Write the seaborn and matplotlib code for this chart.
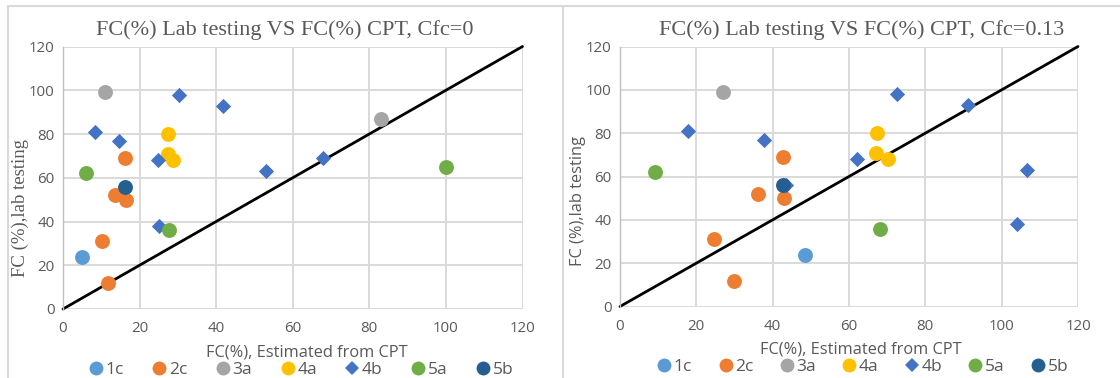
import numpy as np
import pandas as pd
import matplotlib
matplotlib.use("Agg")
import matplotlib.pyplot as plt
from matplotlib.lines import Line2D
import seaborn as sns

# Soil unit of each sample
groups = ["1c",
          "2c", "2c", "2c", "2c", "2c",
          "3a", "3a",
          "4a", "4a", "4a",
          "4b", "4b", "4b", "4b", "4b", "4b", "4b", "4b", "4b",
          "5a", "5a", "5a",
          "5b"]
# Fines content measured in the lab (%)
fc_lab = [24,
          12, 31, 52, 50, 69,
          99, 87,
          80, 71, 68,
          81, 77, 68, 98, 93, 63, 69, 38, 56,
          62, 36, 65,
          56]
# Fines content estimated from CPT with Cfc = 0 (%)
fc_cpt_cfc0 = [5.0,
               11.7, 10.2, 13.7, 16.4, 16.2,
               10.9, 83.0,
               27.3, 27.5, 28.7,
               8.3, 14.6, 24.7, 30.4, 41.7, 53.1, 67.8, 25.2, np.nan,
               6.0, 27.8, 100.0,
               16.3]
# Fines content estimated from CPT with Cfc = 0.13 (%)
fc_cpt_cfc013 = [48.4,
                 29.9, 24.5, 36.1, 43.1, 42.8,
                 27.1, np.nan,
                 67.4, 67.2, 70.2,
                 17.8, 37.8, 62.1, 72.6, 91.3, 106.6, np.nan, 103.9, 43.4,
                 9.1, 68.1, np.nan,
                 42.6]

group_order = ["1c", "2c", "3a", "4a", "4b", "5a", "5b"]
group_colors = ["#5B9BD5", "#ED7D31", "#A5A5A5", "#FFC000", "#4472C4", "#70AD47", "#255E91"]
group_markers = ["o", "o", "o", "o", "D", "o", "o"]

panel_titles = ["FC(%) Lab testing VS FC(%) CPT, Cfc=0",
                "FC(%) Lab testing VS FC(%) CPT, Cfc=0.13"]
x_label = "FC(%), Estimated from CPT"
y_label = "FC (%),lab testing"
ticks = [0, 20, 40, 60, 80, 100, 120]

df = pd.DataFrame({"group": groups, "lab": fc_lab,
                   "cfc0": fc_cpt_cfc0, "cfc013": fc_cpt_cfc013})

sns.set_style("white")
plt.rcParams["font.family"] = ["Open Sans", "DejaVu Sans"]

text_color = "#595959"
grid_color = "#d9d9d9"

fig = plt.figure(figsize=(11.2, 3.78), dpi=100)
ax_left = fig.add_axes([63 / 1120, 1 - 309 / 378, 459.5 / 1120, 262.5 / 378])
ax_right = fig.add_axes([620 / 1120, 1 - 306.5 / 378, 458 / 1120, 260 / 378])

panel_style = [
    # title x, x-label x, y-label y, y-label font/size, legend x, legend spacing
    dict(tx=0.483, lx=0.531, ly=0.385, yfam=["Liberation Serif"], ysize=13.5,
         legx=0.516, colsp=1.55),
    dict(tx=0.528, lx=0.526, ly=0.406, yfam=["Open Sans"], ysize=11.8,
         legx=0.528, colsp=1.42),
]

for ax, col, title, st in zip([ax_left, ax_right], ["cfc0", "cfc013"],
                              panel_titles, panel_style):
    ax.set_axisbelow(True)
    ax.grid(True, color=grid_color, lw=1.4)
    ax.plot([0, 120], [0, 120], color="black", lw=2, zorder=2, clip_on=False)
    for g, c, m in zip(group_order, group_colors, group_markers):
        sub = df[(df["group"] == g) & df[col].notna()]
        sns.scatterplot(data=sub, x=col, y="lab", ax=ax, color=c, marker=m,
                        s=60 if m == "D" else 115, linewidth=0, zorder=3,
                        legend=False, clip_on=False)
    ax.set_xlim(0, 120)
    ax.set_ylim(0, 120)
    ax.set_xticks(ticks)
    ax.set_yticks(ticks)
    ax.tick_params(length=0, labelsize=10.8, labelcolor=text_color)
    ax.tick_params(axis="x", pad=9)
    ax.tick_params(axis="y", pad=6)
    for s in ["top", "right", "bottom"]:
        ax.spines[s].set_visible(False)
    ax.spines["left"].set_color("#bfbfbf")
    ax.spines["left"].set_linewidth(1.0)
    ax.set_title(title, fontsize=16, color=text_color,
                 family=["Liberation Serif"], pad=8, x=st["tx"])
    ax.set_xlabel(x_label, fontsize=11.8, color=text_color, labelpad=1)
    ax.xaxis.set_label_coords(st["lx"], -0.135)
    ax.set_ylabel(y_label, fontsize=st["ysize"], color=text_color,
                  family=st["yfam"], labelpad=0)
    ax.yaxis.label.set_y(st["ly"])

    handles = [Line2D([], [], linestyle="none", marker=m, color=c,
                      markersize=7.5 if m == "D" else 10, markeredgewidth=0)
               for c, m in zip(group_colors, group_markers)]
    ax.legend(handles, group_order, loc="center", ncol=7,
              bbox_to_anchor=(st["legx"], -0.232), frameon=False, fontsize=12.5,
              handletextpad=0.05, columnspacing=st["colsp"], handlelength=1.0,
              labelcolor=text_color)

# Chart-area frames
frame = dict(color=grid_color, lw=1.5, transform=fig.transFigure)
fig.add_artist(Line2D([8 / 1120, 1], [1 - 6 / 378, 1 - 6 / 378], **frame))
fig.add_artist(Line2D([8 / 1120, 8 / 1120], [0, 1 - 6 / 378], **frame))
fig.add_artist(Line2D([563 / 1120, 563 / 1120], [0, 1 - 6 / 378], **frame))

fig.savefig("out.png", dpi=100, facecolor="white")
